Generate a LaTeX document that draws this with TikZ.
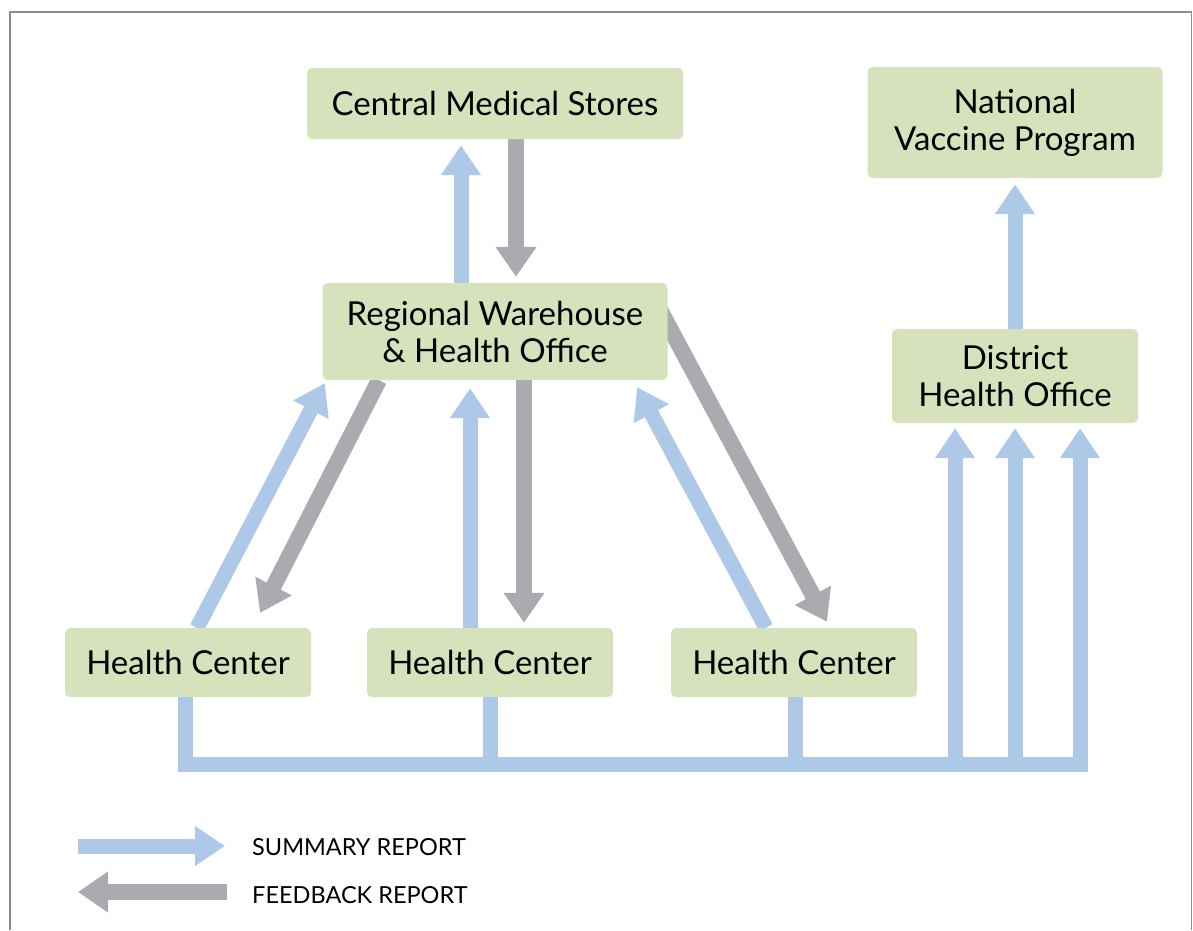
\documentclass[tikz,border=0pt]{standalone}
\usepackage{fontspec}
\setmainfont{Lato}
\usetikzlibrary{arrows.meta,calc,backgrounds}
\definecolor{boxgreen}{RGB}{214,226,188}
\definecolor{sumblue}{RGB}{174,200,232}
\definecolor{fbgray}{RGB}{170,170,176}
\definecolor{framegray}{RGB}{140,140,140}
\tikzset{
  orgbox/.style={fill=boxgreen, rounded corners=5pt, inner sep=0pt, align=center,
    font=\fontsize{33}{37}\selectfont},
  sumarrow/.style={draw=sumblue, line width=15pt, -{Triangle[length=30pt,width=38pt]}},
  sumline/.style={draw=sumblue, line width=15pt},
  fbarrow/.style={draw=fbgray, line width=16pt, -{Triangle[length=30pt,width=39pt]}},
  legendtext/.style={anchor=west, inner sep=0pt, font=\fontsize{23.5}{27}\selectfont}
}
\begin{document}
\begin{tikzpicture}[x=1pt,y=-1pt]
\useasboundingbox (0,0) rectangle (1193,930);

% boxes
\node[orgbox, minimum width=376pt, minimum height=71pt] (cms) at (495,103.5) {Central Medical Stores};
\node[orgbox, minimum width=345pt, minimum height=97pt] (rw) at (495,331.5) {Regional Warehouse\\\& Health Office};
\node[orgbox, minimum width=295pt, minimum height=111pt] (nvp) at (1015,122.5) {National\\Vaccine Program};
\node[orgbox, minimum width=246pt, minimum height=94pt] (dho) at (1015,376) {District\\Health Office};
\node[orgbox, minimum width=246pt, minimum height=69pt] (hc1) at (188,662.5) {Health Center};
\node[orgbox, minimum width=246pt, minimum height=69pt] (hc2) at (490,662.5) {Health Center};
\node[orgbox, minimum width=246pt, minimum height=69pt] (hc3) at (794,662.5) {Health Center};

% legend
\coordinate (l1a) at (78,846);
\coordinate (l1b) at (225,846);
\coordinate (l2a) at (227,892);
\coordinate (l2b) at (78,892);
\node[legendtext] (lt1) at (252,847) {SUMMARY REPORT};
\node[legendtext] (lt2) at (252,895) {FEEDBACK REPORT};

\begin{scope}[on background layer]
  \fill[white] (0,0) rectangle (1193,930);
  \draw[framegray, line width=1.5pt] (10,930) -- (10,12) -- (1191.5,12) -- (1191.5,930);
  % top pair
  \draw[sumarrow] ($(rw.north)+(-34,0)$) -- ($(cms.south)+(-34,6)$);
  \draw[fbarrow] ($(cms.south)+(21,0)$) -- ($(rw.north)+(21,-6)$);
  % left pair
  \draw[sumarrow] ($(hc1.north)+(9,0)$) -- ($(rw.south west)+(2.5,3)$);
  \draw[fbarrow] ($(rw.south)+(-116,0)$) -- ($(hc1.north)+(72,-15)$);
  % middle pair
  \draw[sumarrow] ($(hc2.north)+(-20,0)$) -- ($(rw.south)+(-25,8)$);
  \draw[fbarrow] ($(rw.south)+(29,0)$) -- ($(hc2.north)+(34,-5)$);
  % right pair
  \draw[sumarrow] ($(hc3.north)+(-28,0)$) -- ($(rw.south east)+(-30.5,7)$);
  \draw[fbarrow] ($(rw.east)+(-7.5,-21.5)$) -- ($(hc3.north)+(33,-6)$);
  % district to national
  \draw[sumarrow] (dho.north) -- ($(nvp.south)+(0,6)$);
  % bus
  \coordinate (busL) at ($(hc1.south)+(-2.5,67)$);
  \draw[sumarrow] ($(hc1.south)+(-2.5,0)$) -- (busL) -| ($(dho.south)+(65,5)$);
  \draw[sumline] ($(hc2.south)+(0.5,0)$) -- ($(hc2.south)+(0.5,67)$);
  \draw[sumline] ($(hc3.south)+(1,0)$) -- ($(hc3.south)+(1,67)$);
  \coordinate (b1) at ($(busL)+(769.5,0)$);
  \coordinate (b2) at ($(busL)+(829.5,0)$);
  \draw[sumarrow] (b1) -- ($(dho.south)+(-60,5)$);
  \draw[sumarrow] (b2) -- ($(dho.south)+(0,5)$);
  % legend arrows
  \draw[sumarrow] (l1a) -- (l1b);
  \draw[fbarrow] (l2a) -- (l2b);
\end{scope}
\end{tikzpicture}
\end{document}
